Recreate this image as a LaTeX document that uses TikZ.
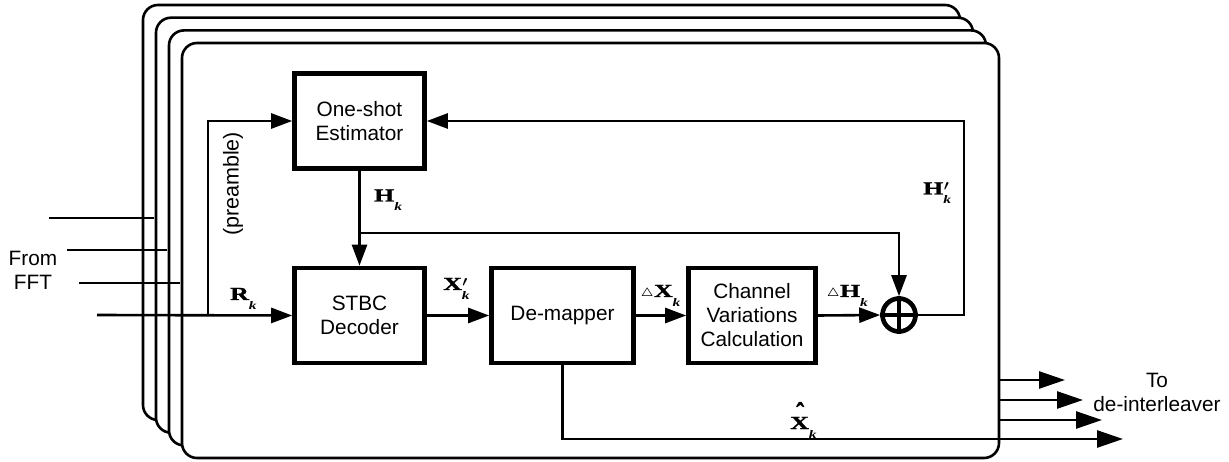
\documentclass[tikz,border=0pt]{standalone}
\usepackage{fontspec}
\usepackage{amsmath}
\setmainfont{Liberation Sans}
\newfontfamily\lblfont{Liberation Serif}[BoldFeatures={FakeBold=1.2}]
\usetikzlibrary{arrows.meta}
% wide bold letter with optional prime and a lowered bold italic index
\newcommand{\sym}[1]{\scalebox{1.4}[1]{\fontsize{18.5}{18}\selectfont\lblfont\bfseries #1}}
\newcommand{\idx}[1]{\raisebox{-9.5pt}{\scalebox{1.35}[1]{\fontsize{11.5}{11}\selectfont\lblfont\bfseries\itshape #1}}}
\newcommand{\lab}[3]{\sym{#1}\rlap{#2}\idx{#3}}
\newcommand{\pr}{\raisebox{3.5pt}{\kern0.5pt\fontsize{14.5}{14}\selectfont$\boldsymbol{\prime}$}}
\newcommand{\smalltri}{\raisebox{0.5pt}{\fontsize{12.5}{12}\selectfont$\boldsymbol{\triangle}$}\kern0.5pt}
\newcommand{\hatsym}[1]{\rlap{\makebox[20pt]{\raisebox{5.7pt}{\scalebox{1.2}[1.5]{\fontsize{20}{20}\selectfont\lblfont\bfseries\symbol{"02C6}}}}}\sym{#1}}
\begin{document}
\begin{tikzpicture}[x=1pt,y=-1pt,
  frame/.style={draw=black,fill=white,line width=2.6pt,rounded corners=15pt},
  block/.style={draw=black,line width=4.6pt,minimum width=#1,minimum height=95pt,
    align=center,font=\fontsize{20.8}{24}\selectfont,inner sep=2pt},
  wire/.style={line width=2.6pt},
  arr/.style={wire,-{Triangle[length=21pt,width=15pt]}},
  outarr/.style={wire,-{Triangle[length=26pt,width=17pt]}},
  txt/.style={font=\fontsize{20.8}{24}\selectfont,align=center,inner sep=0pt},
  lbl/.style={anchor=base west,inner sep=0pt},
]
\useasboundingbox (0,0) rectangle (1229,462);

% stacked processing frames, back to front
\draw[frame] (143,5) rectangle (960,420);
\draw[frame] (156,17.7) rectangle (973,432.7);
\draw[frame] (169,30.4) rectangle (986,445.4);
\draw[frame] (182,43) rectangle (999,458);

% blocks
\node[block=130pt] (est) at (359.5,121) {One-shot\\Estimator};
\node[block=130pt] (stbc) at (359.5,315.5) {STBC\\Decoder};
\node[block=142pt] (demap) at (562.5,315.5) {De-mapper};
\node[block=127pt] (chan) at (752,315.5) {Channel\\Variations\\Calculation};
\node[draw=black,circle,line width=4.6pt,minimum size=33pt,inner sep=0pt] (sum) at (899,315) {};
\draw[line width=4.6pt] (sum.north) -- (sum.south) (sum.west) -- (sum.east);

% inputs from the FFT
\coordinate (in1s) at (49,218);  \coordinate (in1e) at (154,218);
\coordinate (in2s) at (67,250);  \coordinate (in2e) at (167,250);
\coordinate (in3s) at (79,283);  \coordinate (in3e) at (180,283);
\coordinate (in4s) at (97,315);
\draw[wire] (in1s) -- (in1e);
\draw[wire] (in2s) -- (in2e);
\draw[wire] (in3s) -- (in3e);
\draw[arr] (in4s) -- (stbc.west);
\node[txt] (from) at (33,270) {From\\FFT};

% preamble tap to the estimator
\coordinate (tap) at (208,315);
\draw[arr] (tap) |- (est.west);
\node[txt,rotate=90,font=\fontsize{21.5}{24}\selectfont] (pre) at (233,184) {(preamble)};
\node[lbl] (rk) at (230,300) {\lab{R}{}{k}};

% channel estimate to decoder and adder
\draw[arr] (est.south) -- (stbc.north);
\coordinate (hb) at (359.5,233);
\draw[arr] (hb) -| (sum.north);
\node[lbl] (hk) at (374,201.5) {\lab{H}{}{k}};

% data path
\draw[arr] (stbc.east) -- (demap.west);
\node[lbl] (xk) at (443,290) {\lab{X}{\pr}{k}};
\draw[arr] (demap.east) -- (chan.west);
\node[lbl] (dxk) at (641,297) {\smalltri\lab{X}{}{k}};
\draw[arr] (chan.east) -- (sum.west);
\node[lbl] (dhk) at (827,297) {\smalltri\lab{H}{}{k}};

% updated estimate fed back
\coordinate (fb) at (964,121);
\draw[arr] (sum.east) -| (fb) -- (est.east);
\node[lbl] (hpk) at (923,194.5) {\lab{H}{\pr}{k}};

% outputs to the de-interleaver
\coordinate (out4) at (1123,439);
\draw[outarr] (demap.south) |- (out4);
\node[lbl] (xhk) at (790,429) {\hatsym{X}\idx{k}};
\coordinate (o1s) at (999,380); \coordinate (o1e) at (1065,380);
\coordinate (o2s) at (999,400); \coordinate (o2e) at (1083,400);
\coordinate (o3s) at (999,420); \coordinate (o3e) at (1102,420);
\draw[outarr] (o1s) -- (o1e);
\draw[outarr] (o2s) -- (o2e);
\draw[outarr] (o3s) -- (o3e);
\node[txt] (to) at (1157,392) {To\\de-interleaver};
\end{tikzpicture}
\end{document}
